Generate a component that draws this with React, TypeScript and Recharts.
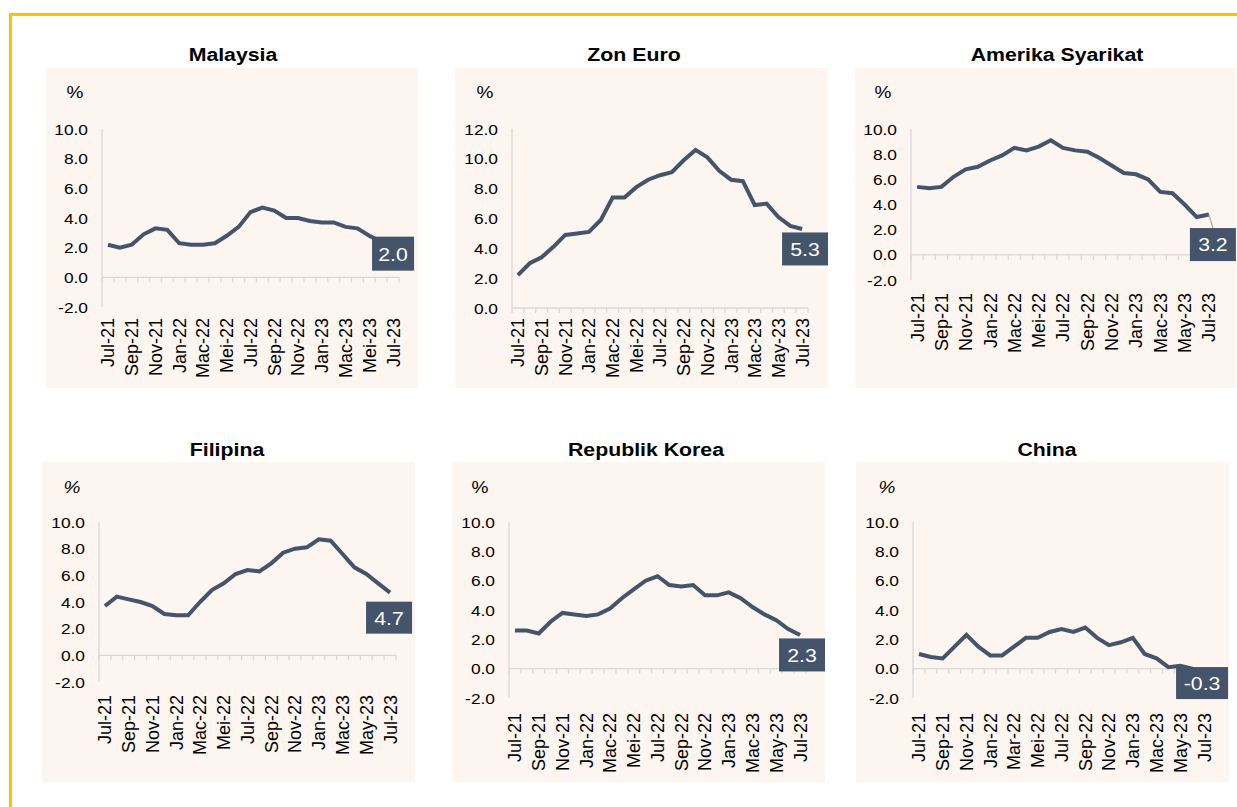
import React from "react"
import { LineChart, Line, XAxis, YAxis, ReferenceLine, LabelList } from "recharts"

const MONTHS = [
  "Jul-21", "Ogo-21", "Sep-21", "Okt-21", "Nov-21", "Dis-21",
  "Jan-22", "Feb-22", "Mac-22", "Apr-22", "Mei-22", "Jun-22",
  "Jul-22", "Ogo-22", "Sep-22", "Okt-22", "Nov-22", "Dis-22",
  "Jan-23", "Feb-23", "Mac-23", "Apr-23", "Mei-23", "Jun-23", "Jul-23",
]

// inflasi (% tahun ke tahun)
const MALAYSIA = [2.2, 2.0, 2.2, 2.9, 3.3, 3.2, 2.3, 2.2, 2.2, 2.3, 2.8, 3.4, 4.4, 4.7, 4.5, 4.0, 4.0, 3.8, 3.7, 3.7, 3.4, 3.3, 2.8, 2.4, 2.0]
const ZON_EURO = [2.2, 3.0, 3.4, 4.1, 4.9, 5.0, 5.1, 5.9, 7.4, 7.4, 8.1, 8.6, 8.9, 9.1, 9.9, 10.6, 10.1, 9.2, 8.6, 8.5, 6.9, 7.0, 6.1, 5.5, 5.3]
const AMERIKA = [5.4, 5.3, 5.4, 6.2, 6.8, 7.0, 7.5, 7.9, 8.5, 8.3, 8.6, 9.1, 8.5, 8.3, 8.2, 7.7, 7.1, 6.5, 6.4, 6.0, 5.0, 4.9, 4.0, 3.0, 3.2]
const FILIPINA = [3.7, 4.4, 4.2, 4.0, 3.7, 3.1, 3.0, 3.0, 4.0, 4.9, 5.4, 6.1, 6.4, 6.3, 6.9, 7.7, 8.0, 8.1, 8.7, 8.6, 7.6, 6.6, 6.1, 5.4, 4.7]
const KOREA = [2.6, 2.6, 2.4, 3.2, 3.8, 3.7, 3.6, 3.7, 4.1, 4.8, 5.4, 6.0, 6.3, 5.7, 5.6, 5.7, 5.0, 5.0, 5.2, 4.8, 4.2, 3.7, 3.3, 2.7, 2.3]
const CHINA = [1.0, 0.8, 0.7, 1.5, 2.3, 1.5, 0.9, 0.9, 1.5, 2.1, 2.1, 2.5, 2.7, 2.5, 2.8, 2.1, 1.6, 1.8, 2.1, 1.0, 0.7, 0.1, 0.2, 0.0, -0.3]

const TICKS_MY = ["Jul-21", "Sep-21", "Nov-21", "Jan-22", "Mac-22", "Mei-22", "Jul-22", "Sep-22", "Nov-22", "Jan-23", "Mac-23", "Mei-23", "Jul-23"]
const TICKS_MAY = ["Jul-21", "Sep-21", "Nov-21", "Jan-22", "Mac-22", "Mei-22", "Jul-22", "Sep-22", "Nov-22", "Jan-23", "Mac-23", "May-23", "Jul-23"]
const TICKS_CN = ["Jul-21", "Sep-21", "Nov-21", "Jan-22", "Mar-22", "Mei-22", "Jul-22", "Sep-22", "Nov-22", "Jan-23", "Mac-23", "May-23", "Jul-23"]

const Y_TICKS = [-2, 0, 2, 4, 6, 8, 10]
const Y_TICKS_EURO = [0, 2, 4, 6, 8, 10, 12]

const FONT = "'Liberation Sans', Arial, sans-serif"
const LINE = "#44546A"
const AXIS = "#D9D9D9"
const BG = "#FDF5F0"
const SX = 1.12 // teks dalam gambar asal sedikit melebar

const PANELS = [
  { title: "Malaysia", values: MALAYSIA, labels: TICKS_MY, yTicks: Y_TICKS, left: 46, top: 68, w: 372, h: 320, yw: 56, mt: 61, mr: 19, xh: 81, gap: 11, tx: 233, ty: 61, px: 75, py: 98, italic: false, box: { dx: 0, dy: 6, w: 42, h: 34 } },
  { title: "Zon Euro", values: ZON_EURO, labels: TICKS_MAY, yTicks: Y_TICKS_EURO, left: 455, top: 68, w: 373, h: 320, yw: 57, mt: 61, mr: 20, xh: 80, gap: 10, tx: 634, ty: 61, px: 485, py: 98, italic: false, box: { dx: 3, dy: 20, w: 46, h: 33 } },
  { title: "Amerika Syarikat", values: AMERIKA, labels: TICKS_MAY, yTicks: Y_TICKS, left: 855, top: 68, w: 381, h: 320, yw: 56, mt: 61, mr: 21, xh: 108, gap: 13, tx: 1057, ty: 61, px: 883, py: 98, italic: false, box: { dx: 4, dy: 30, w: 46, h: 33 }, leader: true },
  { title: "Filipina", values: FILIPINA, labels: TICKS_MAY, yTicks: Y_TICKS, left: 42, top: 462, w: 373, h: 320, yw: 57, mt: 60, mr: 19, xh: 100, gap: 13, tx: 227, ty: 456, px: 72, py: 493, italic: true, box: { dx: -1, dy: 25, w: 46, h: 32 } },
  { title: "Republik Korea", values: KOREA, labels: TICKS_MAY, yTicks: Y_TICKS, left: 452, top: 462, w: 373, h: 320, yw: 57, mt: 60, mr: 19, xh: 84, gap: 15, tx: 646, ty: 456, px: 480, py: 493, italic: false, box: { dx: 2, dy: 20, w: 46, h: 33 } },
  { title: "China", values: CHINA, labels: TICKS_CN, yTicks: Y_TICKS, left: 856, top: 462, w: 373, h: 320, yw: 57, mt: 60, mr: 19, xh: 84, gap: 15, tx: 1047, ty: 456, px: 887, py: 493, italic: true, box: { dx: -2, dy: 10, w: 52, h: 32 } },
]

function ZeroAxis(props: any) {
  const { x1, x2, y1 } = props
  const n = MONTHS.length
  const step = (x2 - x1) / n
  return (
    <g>
      <line x1={x1} x2={x2} y1={y1} y2={y1} stroke={AXIS} strokeWidth={1.3} />
      {Array.from({ length: n + 1 }, (_, i) => (
        <line key={i} x1={x1 + i * step} x2={x1 + i * step} y1={y1} y2={y1 + 5} stroke={AXIS} strokeWidth={1.3} />
      ))}
    </g>
  )
}

function YTick(t: any) {
  return (
    <text transform={`translate(${t.x},${t.y}) scale(${SX},1)`} textAnchor="end" dy="0.36em"
      fontSize={15.5} fontFamily={FONT} fill="#000">
      {Number(t.payload.value).toFixed(1)}
    </text>
  )
}

function Panel({ p }: { p: any }) {
  const data = MONTHS.map((m, i) => ({ month: m, v: p.values[i] }))
  const plotW = p.w - p.yw - p.mr
  const half = plotW / MONTHS.length / 2
  const last = p.values.length - 1

  const xTick = (t: any) => {
    const i = t.index
    if (i % 2 !== 0) return <g />
    const yy = t.y + p.gap
    return (
      <text x={t.x} y={yy} transform={`rotate(-90, ${t.x}, ${yy})`} textAnchor="end" dy="0.36em"
        fontSize={18} fontFamily={FONT} fill="#000">
        {p.labels[i / 2]}
      </text>
    )
  }

  const callout = (l: any) => {
    if (l.index !== last) return null
    const x = l.x ?? l.viewBox?.x
    const y = l.y ?? l.viewBox?.y
    const cx = x + p.box.dx
    const cy = y + p.box.dy
    return (
      <g>
        {p.leader && <line x1={x} y1={y} x2={cx} y2={cy - p.box.h / 2} stroke="#A6A6A6" strokeWidth={1.2} />}
        <rect x={cx - p.box.w / 2} y={cy - p.box.h / 2} width={p.box.w} height={p.box.h} fill={LINE} />
        <text transform={`translate(${cx},${cy}) scale(${SX},1)`} dy="0.36em" textAnchor="middle" fontSize={19} fontFamily={FONT} fill="#fff">
          {Number(l.value).toFixed(1)}
        </text>
      </g>
    )
  }

  return (
    <div style={{ position: "absolute", left: p.left, top: p.top, width: p.w, height: p.h, background: BG }}>
      <LineChart width={p.w} height={p.h} data={data} margin={{ top: p.mt, right: p.mr, bottom: 0, left: 0 }}>
        <XAxis dataKey="month" interval={0} axisLine={false} tickLine={false} tickSize={0} tickMargin={0}
          height={p.xh} padding={{ left: half, right: half }} tick={xTick} />
        <YAxis type="number" domain={[p.yTicks[0], p.yTicks[p.yTicks.length - 1]]} ticks={p.yTicks} interval={0}
          width={p.yw} axisLine={{ stroke: AXIS, strokeWidth: 1.3 }} tickLine={false} tickSize={0} tickMargin={14}
          tick={YTick} />
        <ReferenceLine y={0} shape={ZeroAxis} />
        <Line dataKey="v" stroke={LINE} strokeWidth={4} dot={false} isAnimationActive={false}>
          <LabelList dataKey="v" content={callout} />
        </Line>
      </LineChart>
    </div>
  )
}

export default function App() {
  return (
    <div style={{ position: "absolute", left: 0, top: 0, width: 1237, height: 807, background: "#fff", overflow: "hidden", fontFamily: FONT }}>
      <div style={{ position: "absolute", left: 9, top: 13, width: 1240, height: 800, borderLeft: "3px solid #FFC000", borderTop: "3px solid #FFC000" }} />
      {PANELS.map(p => <Panel key={p.title} p={p} />)}
      <svg width={1237} height={807} style={{ position: "absolute", left: 0, top: 0, pointerEvents: "none" }}>
        {PANELS.map(p => (
          <g key={p.title}>
            <text transform={`translate(${p.tx},${p.ty}) scale(${SX},1)`} textAnchor="middle" fontSize={19} fontWeight="bold" fontFamily={FONT} fill="#000">{p.title}</text>
            <text transform={`translate(${p.px},${p.py}) scale(${SX},1)`} textAnchor="middle" fontSize={17} fontStyle={p.italic ? "italic" : "normal"} fontFamily={FONT} fill="#000">%</text>
          </g>
        ))}
      </svg>
    </div>
  )
}
